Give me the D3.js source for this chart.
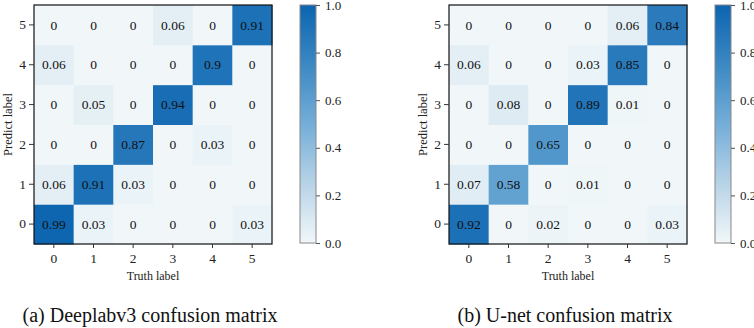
<!DOCTYPE html>
<html>
<head>
<meta charset="utf-8">
<script src="https://cdn.jsdelivr.net/npm/d3@7"></script>
<style>
  body { margin: 0; background: #fff; }
  svg text { font-family: "Liberation Serif", "Times New Roman", serif; }
</style>
</head>
<body>
<svg id="chart" width="754" height="328"></svg>
<script>
// rows = predict label 0..5, columns = truth label 0..5
const labels = [0, 1, 2, 3, 4, 5];
const deeplabValues = [
  [0.99, 0.03, 0, 0, 0, 0.03],
  [0.06, 0.91, 0.03, 0, 0, 0],
  [0, 0, 0.87, 0, 0.03, 0],
  [0, 0.05, 0, 0.94, 0, 0],
  [0.06, 0, 0, 0, 0.9, 0],
  [0, 0, 0, 0.06, 0, 0.91]
];
const unetValues = [
  [0.92, 0, 0.02, 0, 0, 0.03],
  [0.07, 0.58, 0, 0.01, 0, 0],
  [0, 0, 0.65, 0, 0, 0],
  [0, 0.08, 0, 0.89, 0.01, 0],
  [0.06, 0, 0, 0.03, 0.85, 0],
  [0, 0, 0, 0, 0.06, 0.84]
];
const colorbarTicks = [0, 0.2, 0.4, 0.6, 0.8, 1.0];
const captions = ["(a) Deeplabv3 confusion matrix", "(b) U-net confusion matrix"];

const FONT = "'Liberation Serif', 'Times New Roman', serif";
const color = d3.scaleLinear()
  .domain([0, 0.25, 0.5, 0.75, 1])
  .range(["#f1f7f9", "#b7d3e7", "#74aed8", "#3c88c3", "#0c65b0"]);
const svg = d3.select("#chart");

function drawPanel(values, ox, caption) {
  const w = 238, h = 239, top = 5;
  const g = svg.append("g").attr("transform", `translate(${ox},${top})`);

  const x = d3.scaleBand().domain(labels).range([0, w]);
  const y = d3.scaleBand().domain(labels).range([h, 0]);

  const cells = [];
  values.forEach((row, p) => row.forEach((v, t) => cells.push({ p, t, v })));

  g.selectAll("rect.cell")
    .data(cells)
    .enter()
    .append("rect")
    .attr("class", "cell")
    .attr("x", d => x(d.t))
    .attr("y", d => y(d.p))
    .attr("width", x.bandwidth() + 0.5)
    .attr("height", y.bandwidth() + 0.5)
    .attr("fill", d => color(d.v));

  g.selectAll("text.val")
    .data(cells)
    .enter()
    .append("text")
    .attr("class", "val")
    .attr("x", d => x(d.t) + x.bandwidth() / 2)
    .attr("y", d => y(d.p) + y.bandwidth() / 2)
    .attr("text-anchor", "middle")
    .attr("dy", "0.35em")
    .style("font-family", FONT)
    .style("font-size", "13.5px")
    .attr("fill", "#111")
    .text(d => String(d.v));

  g.append("rect")
    .attr("width", w).attr("height", h)
    .attr("fill", "none").attr("stroke", "#111").attr("stroke-width", 1.2);

  const ax = g.append("g").attr("transform", `translate(0,${h})`)
    .call(d3.axisBottom(x).tickSize(4).tickPadding(5));
  const ay = g.append("g").call(d3.axisLeft(y).tickSize(5).tickPadding(3));
  [ax, ay].forEach(a => {
    a.select(".domain").remove();
    a.selectAll("text").style("font-family", FONT).style("font-size", "13.5px").attr("fill", "#222");
    a.selectAll("line").attr("stroke", "#333");
  });

  g.append("text")
    .attr("x", w / 2).attr("y", 280 - top)
    .attr("text-anchor", "middle")
    .style("font-family", FONT).style("font-size", "12px").attr("fill", "#222")
    .text("Truth label");

  g.append("text")
    .attr("transform", `translate(${-22},${h / 2}) rotate(-90)`)
    .attr("text-anchor", "middle")
    .style("font-family", FONT).style("font-size", "12.5px").attr("fill", "#222")
    .text("Predict label");

  // colorbar
  const cbx = w + 28, cbw = 16;
  const cy = d3.scaleLinear().domain([0, 1]).range([h - 1, 0]);
  const gradId = "grad" + ox;
  const grad = svg.append("defs").append("linearGradient")
    .attr("id", gradId).attr("x1", 0).attr("y1", 1).attr("x2", 0).attr("y2", 0);
  d3.range(0, 1.01, 0.05).forEach(s => {
    grad.append("stop").attr("offset", s).attr("stop-color", color(s));
  });
  g.append("rect")
    .attr("x", cbx).attr("y", 0).attr("width", cbw).attr("height", h - 1)
    .attr("fill", `url(#${gradId})`).attr("stroke", "#888").attr("stroke-width", 1);
  const cbAxis = g.append("g").attr("transform", `translate(${cbx + cbw},0)`)
    .call(d3.axisRight(cy).tickValues(colorbarTicks).tickFormat(d3.format(".1f")).tickSize(4).tickPadding(5));
  cbAxis.select(".domain").remove();
  cbAxis.selectAll("text").style("font-family", FONT).style("font-size", "13px").attr("fill", "#222");
  cbAxis.selectAll("line").attr("stroke", "#555");

  svg.append("text")
    .attr("x", ox + w / 2 - 3).attr("y", 322)
    .attr("text-anchor", "middle")
    .style("font-family", FONT).style("font-size", "20px").attr("fill", "#111")
    .text(caption);
}

drawPanel(deeplabValues, 34, captions[0]);
drawPanel(unetValues, 449, captions[1]);
</script>
</body>
</html>
